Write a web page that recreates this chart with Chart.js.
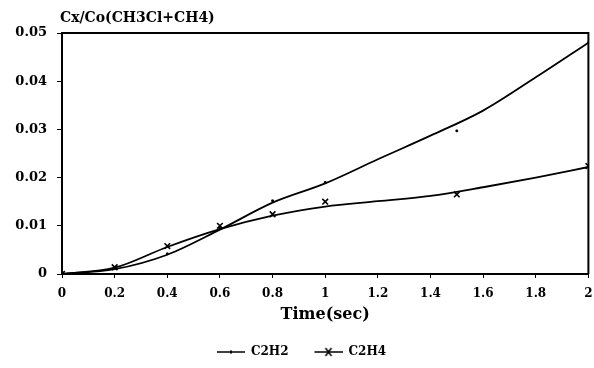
<!DOCTYPE html>
<html>
<head>
<meta charset="utf-8">
<script src="https://cdn.jsdelivr.net/npm/chart.js@4.4.0/dist/chart.umd.min.js"></script>
<style>
  html, body { margin: 0; padding: 0; background: #fff; }
  #box { width: 594px; height: 368px; }
</style>
</head>
<body>
<div id="box"><canvas id="grafico"></canvas></div>
<script>
// tempos medidos (s)
const tempos = [0, 0.2, 0.4, 0.6, 0.8, 1.0, 1.5, 2.0];
const pontosC2H2 = [0, 0.0012, 0.0042, 0.0095, 0.0152, 0.0190, 0.0297, 0.0480];
const pontosC2H4 = [0, 0.0014, 0.0058, 0.0100, 0.0124, 0.0150, 0.0165, 0.0224];

// curvas ajustadas, lidas a cada 0.2 s
const temposCurva = [0, 0.2, 0.4, 0.6, 0.8, 1.0, 1.2, 1.4, 1.6, 1.8, 2.0];
const curvaC2H2 = [0, 0.0010, 0.0040, 0.0092, 0.0148, 0.0188, 0.0238, 0.0287, 0.0339, 0.0408, 0.0480];
const curvaC2H4 = [0, 0.0013, 0.0056, 0.0093, 0.0121, 0.0140, 0.0151, 0.0162, 0.0180, 0.0200, 0.0222];

const fonte = 'DejaVu Serif';

function xy(xs, ys) {
  return xs.map((x, i) => ({ x: x, y: ys[i] }));
}

// simbolo da legenda: linha com o marcador no meio (com folga a esquerda)
function simbolo(tipo) {
  const c = document.createElement('canvas');
  c.width = 42; c.height = 10;
  const g = c.getContext('2d');
  g.strokeStyle = '#000';
  g.lineWidth = 1.5;
  g.beginPath(); g.moveTo(14, 5); g.lineTo(42, 5); g.stroke();
  if (tipo == 'x') {
    g.beginPath();
    g.moveTo(25, 1); g.lineTo(31, 9);
    g.moveTo(31, 1); g.lineTo(25, 9);
    g.stroke();
  } else {
    g.fillStyle = '#000';
    g.fillRect(27, 3.5, 2, 3);
  }
  return c;
}

// moldura em volta da area do grafico + titulo do eixo y
const moldura = {
  id: 'moldura',
  afterDraw(chart) {
    const a = chart.chartArea;
    const ctx = chart.ctx;
    ctx.save();
    ctx.strokeStyle = '#000';
    ctx.lineWidth = 2;
    ctx.beginPath();
    ctx.moveTo(a.left, a.top); ctx.lineTo(a.right, a.top); ctx.lineTo(a.right, a.bottom);
    ctx.stroke();
    ctx.fillStyle = '#000';
    ctx.font = 'bold 14px "' + fonte + '"';
    ctx.textBaseline = 'middle';
    ctx.fillText('Cx/Co(CH3Cl+CH4)', a.left - 2, 18);
    ctx.restore();
  }
};

const dataConc = {
  datasets: [
    {
      label: 'C2H2',
      data: xy(temposCurva, curvaC2H2),
      borderColor: '#000',
      borderWidth: 1.8,
      pointRadius: 0,
      cubicInterpolationMode: 'monotone',
      pointStyle: simbolo('.'),
    },
    {
      label: 'C2H4',
      data: xy(temposCurva, curvaC2H4),
      borderColor: '#000',
      borderWidth: 1.8,
      pointRadius: 0,
      cubicInterpolationMode: 'monotone',
      pointStyle: simbolo('x'),
    },
    {
      label: 'pontos C2H2',
      data: xy(tempos, pontosC2H2),
      showLine: false,
      pointStyle: 'rect',
      pointRadius: 1.2,
      backgroundColor: '#000',
      borderColor: '#000',
    },
    {
      label: 'pontos C2H4',
      data: xy(tempos, pontosC2H4),
      showLine: false,
      pointStyle: 'crossRot',
      pointRadius: 4,
      borderWidth: 1.6,
      borderColor: '#000',
    },
  ]
};

const configConc = {
  type: 'line',
  data: dataConc,
  options: {
    responsive: true,
    maintainAspectRatio: false,
    animation: false,
    layout: { padding: { top: 33, right: 5, left: 0, bottom: 0 } },
    plugins: {
      tooltip: { enabled: false },
      legend: {
        position: 'bottom',
        labels: {
          usePointStyle: true,
          pointStyleWidth: 42,
          color: '#000',
          font: { family: fonte, size: 12, weight: 'bold' },
          padding: 12,
          filter: (item) => item.datasetIndex < 2,
        }
      }
    },
    scales: {
      x: {
        type: 'linear',
        min: 0,
        max: 2,
        grid: { drawOnChartArea: false, tickLength: 4, color: '#000', lineWidth: 1 },
        border: { color: '#000', width: 2 },
        ticks: {
          stepSize: 0.2,
          color: '#000',
          padding: 9,
          font: { family: fonte, size: 12, weight: 'bold' },
          callback: (v) => String(Number(v.toFixed(1))),
        },
        title: {
          display: true,
          text: 'Time(sec)',
          color: '#000',
          font: { family: fonte, size: 16, weight: 'bold' },
          padding: { top: 0, bottom: 10 },
        },
        afterFit: (s) => { s.height = 60; s.paddingRight = 0; },
      },
      y: {
        min: 0,
        max: 0.05,
        grid: { drawOnChartArea: false, tickLength: 5, color: '#000', lineWidth: 1 },
        border: { color: '#000', width: 2 },
        ticks: {
          stepSize: 0.01,
          color: '#000',
          padding: 10,
          font: { family: fonte, size: 13, weight: 'bold' },
        },
        afterFit: (s) => { s.width = 62; },
      }
    }
  },
  plugins: [moldura]
};

const graficoConc = new Chart(document.getElementById('grafico'), configConc);
</script>
</body>
</html>
